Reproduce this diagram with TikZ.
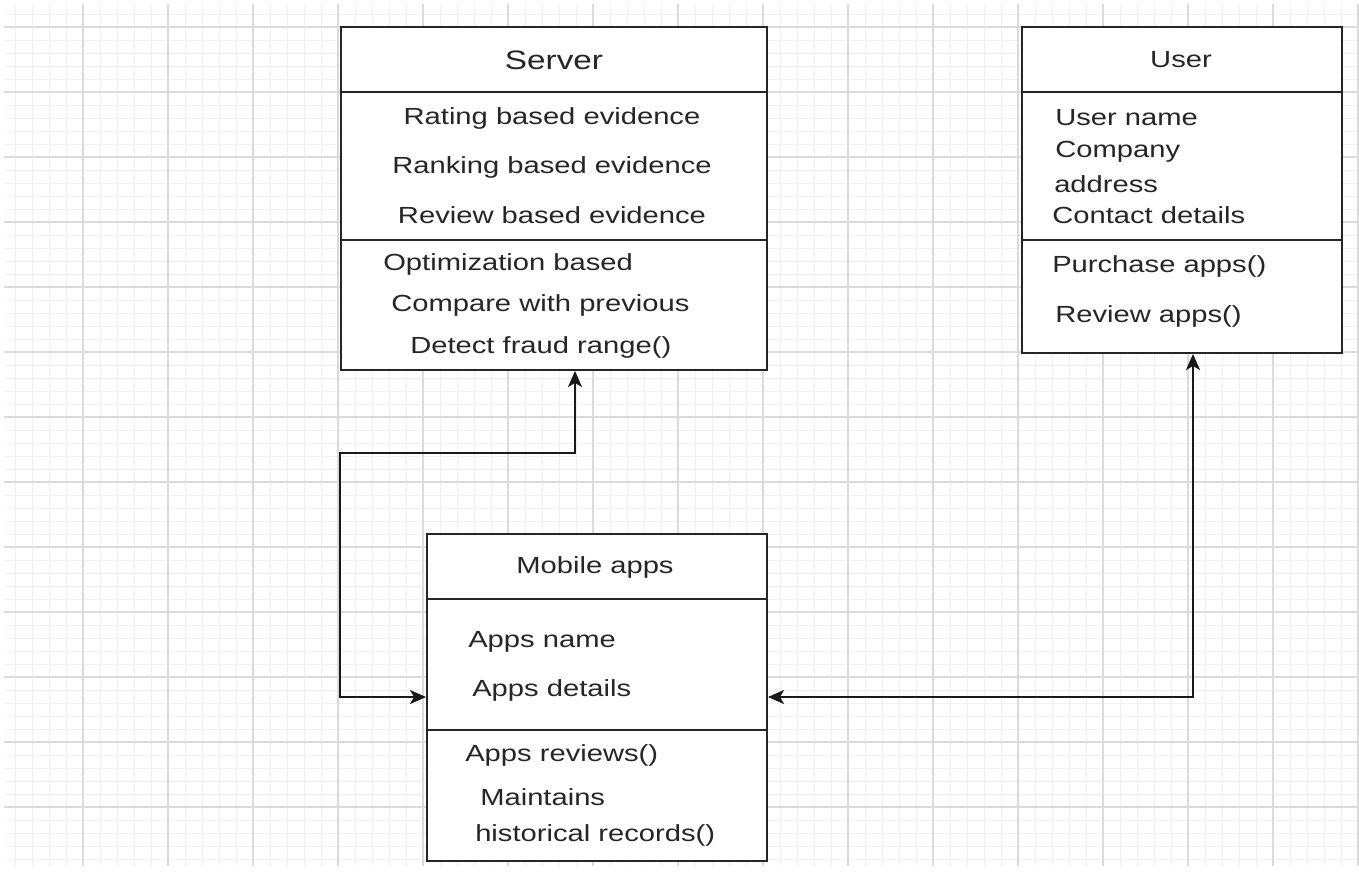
\documentclass[tikz,border=0pt]{standalone}
\usepackage{fontspec}
\setmainfont{Liberation Sans}[FakeStretch=1.25]
\usetikzlibrary{arrows.meta}

\newdimen\px \px=0.75pt

\tikzset{
  classbox/.style={draw=black!85, line width=1.5pt, fill=white, rectangle, inner sep=0pt},
  divider/.style={draw=black!85, line width=1.2pt},
  txt/.style={inner sep=0pt, font=\fontsize{17.5}{21}\selectfont, text=black!85},
  attr/.style={txt, anchor=west},
  conn/.style={draw=black!90, line width=1.5pt, {Stealth[length=12pt,width=10.5pt,inset=3pt]}-{Stealth[length=12pt,width=10.5pt,inset=3pt]}},
  minorgrid/.style={draw=gray!12, line width=0.6pt},
  majorgrid/.style={draw=gray!28, line width=0.8pt}
}

\begin{document}
\begin{tikzpicture}[x=0.75pt, y=-0.75pt]
    \useasboundingbox (0,0) rectangle (1359,873);
    \fill[white] (0,0) rectangle (1359,873);

    % background grid
    \foreach \gx in {15,32,...,1359} \draw[minorgrid] (\gx,4) -- (\gx,866);
    \foreach \gy in {14,27,...,866} \draw[minorgrid] (4,\gy) -- (1359,\gy);
    \foreach \gx in {83,168,...,1359} \draw[majorgrid] (\gx,4) -- (\gx,866);
    \foreach \gy in {27,92,...,866} \draw[majorgrid] (4,\gy) -- (1359,\gy);

    % Server
    \node[classbox, minimum width=426\px, minimum height=343\px] (srv) at (554,198.5) {};
    \draw[divider] (srv.west |- 0,92) -- (srv.east |- 0,92);
    \draw[divider] (srv.west |- 0,240) -- (srv.east |- 0,240);
    \node[txt, font=\fontsize{20}{24}\selectfont] (srvname) at (554,60) {Server};
    \node[txt] (rating) at (552,118) {Rating based evidence};
    \node[txt] (ranking) at (552,167) {Ranking based evidence};
    \node[txt] (review) at (552,215) {Review based evidence};
    \node[attr] (optim) at (383,264) {Optimization based};
    \node[attr] (compare) at (391,305) {Compare with previous};
    \node[attr] (detect) at (410,347) {Detect fraud range()};

    % User
    \node[classbox, minimum width=320\px, minimum height=326\px] (usr) at (1182,190) {};
    \draw[divider] (usr.west |- 0,92) -- (usr.east |- 0,92);
    \draw[divider] (usr.west |- 0,240) -- (usr.east |- 0,240);
    \node[txt] (usrname) at (1181,60) {User};
    \node[attr] (uname) at (1055,118) {User name};
    \node[attr] (company) at (1055,152) {Company};
    \node[attr] (address) at (1054,184) {address};
    \node[attr] (contact) at (1052,215) {Contact details};
    \node[attr] (purchase) at (1052,266) {Purchase apps()};
    \node[attr] (revapps) at (1055,316) {Review apps()};

    % Mobile apps
    \node[classbox, minimum width=340\px, minimum height=327\px] (mob) at (597,697.5) {};
    \draw[divider] (mob.west |- 0,599) -- (mob.east |- 0,599);
    \draw[divider] (mob.west |- 0,730) -- (mob.east |- 0,730);
    \node[txt] (mobname) at (595,567) {Mobile apps};
    \node[attr] (appname) at (468,642) {Apps name};
    \node[attr] (appdet) at (472,690) {Apps details};
    \node[attr] (appsrev) at (465,755) {Apps reviews()};
    \node[attr] (maint) at (480,797) {Maintains};
    \node[attr] (hist) at (475,835) {historical records()};

    % connectors
    \draw[conn] (mob.west |- 0,697) -- (srv.south west |- 0,697) |- (575,453) -- (srv.south -| 575,0);
    \draw[conn] (mob.east |- 0,697) -| (usr.south -| 1193,0);
\end{tikzpicture}
\end{document}
